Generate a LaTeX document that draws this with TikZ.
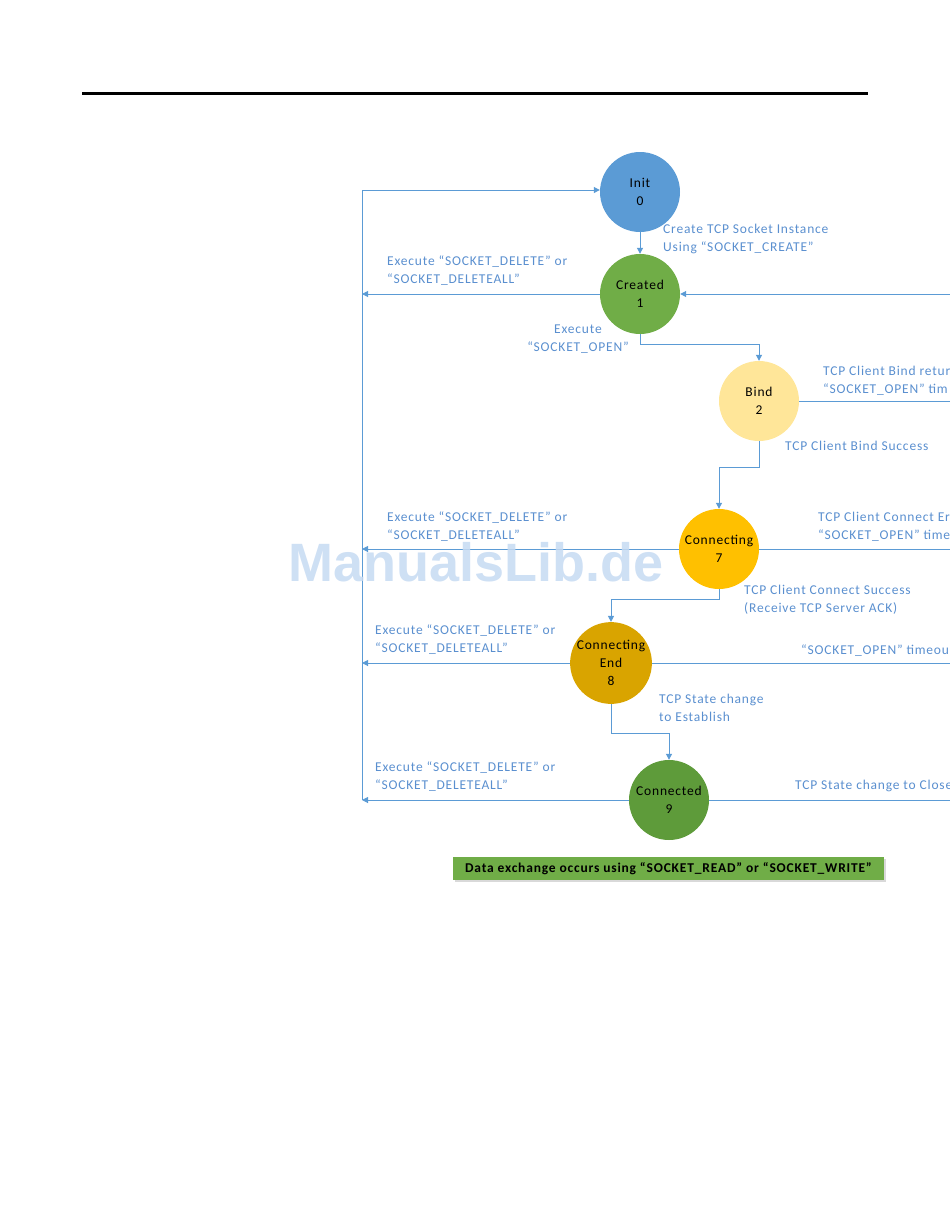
\documentclass[tikz,border=0pt]{standalone}
\usepackage{fontspec}
\setmainfont{Carlito}[LetterSpace=6]
\newfontfamily\markfont{Liberation Sans}
\usetikzlibrary{arrows.meta,shadows}
\definecolor{lineblue}{HTML}{5B9BD5}
\definecolor{textblue}{HTML}{5A8FCF}
\definecolor{initblue}{HTML}{5B9BD5}
\definecolor{createdgreen}{HTML}{70AD47}
\definecolor{bindyellow}{HTML}{FFE699}
\definecolor{connorange}{HTML}{FFC000}
\definecolor{endgold}{HTML}{D9A400}
\definecolor{donegreen}{HTML}{5E9B3A}
\definecolor{markblue}{HTML}{C6DAF2}
\tikzset{
  ball/.style={circle, minimum size=80pt, inner sep=0pt, align=center,
    font=\fontsize{13.5}{18}\selectfont},
  note/.style={text=textblue, align=left, anchor=west, inner sep=0pt,
    font=\fontsize{13.5}{18}\selectfont},
  link/.style={draw=lineblue, line width=1pt},
}
\begin{document}
\begin{tikzpicture}[x=1pt, y=-1pt, >={Triangle[length=6pt,width=6pt]}]
    \useasboundingbox (0,0) rectangle (950,1229);
    \clip (0,0) rectangle (950,1229);
    \draw[line width=3pt] (82,93) -- (868,93);
    % states
    \node[ball, fill=initblue] (init) at (640,192) {Init\\0};
    \node[ball, fill=createdgreen] (created) at (640,294) {Created\\1};
    \node[ball, fill=bindyellow] (bind) at (759,401) {Bind\\2};
    \node[ball, fill=connorange] (connecting) at (719,549) {Connecting\\7};
    \node[ball, fill=endgold] (connend) at (611,663) {Connecting\\End\\8};
    \node[ball, fill=donegreen] (connected) at (669,800) {Connected\\9};
    \coordinate (busT) at (362,190);
    \coordinate (busB) at (362,800);
    \coordinate (edge) at (950,0);
    % left bus
    \draw[link, ->] (busB) -- (busT) -- (busT -| init.west);
    \draw[link, ->] (created.west) -- (created.west -| busT);
    \draw[link, ->] (connecting.west) -- (connecting.west -| busT);
    \draw[link, ->] (connend.west) -- (connend.west -| busT);
    \draw[link, ->] (connected.west) -- (connected.west -| busT);
    % right side
    \draw[link, <-] (created.east) -- (created.east -| edge);
    \draw[link] (bind.east) -- (bind.east -| edge);
    \draw[link] (connecting.east) -- (connecting.east -| edge);
    \draw[link] (connend.east) -- (connend.east -| edge);
    \draw[link] (connected.east) -- (connected.east -| edge);
    % forward steps
    \draw[link, ->] (init) -- (created);
    \draw[link, ->] (created.south) -- ++(0,10) -| (bind.north);
    \draw[link, ->] (bind.south) -- ++(0,26) -| (connecting.north);
    \draw[link, ->] (connecting.south) -- ++(0,10) -| (connend.north);
    \draw[link, ->] (connend.south) -- ++(0,29) -| (connected.north);
    % labels
    \node[note] (lcreate) at (663,239) {Create TCP Socket Instance\\Using “SOCKET\_CREATE”};
    \node[note] (ldel1) at (387,271) {Execute “SOCKET\_DELETE” or\\“SOCKET\_DELETEALL”};
    \node[note, align=center, anchor=center] (lopen) at (578,339) {Execute\\“SOCKET\_OPEN”};
    \node[note] (lbindErr) at (823,381) {TCP Client Bind retur\\“SOCKET\_OPEN” tim};
    \node[note] (lbindOk) at (785,446) {TCP Client Bind Success};
    \node[note] (ldel7) at (387,527) {Execute “SOCKET\_DELETE” or\\“SOCKET\_DELETEALL”};
    \node[note] (lconnErr) at (818,527) {TCP Client Connect Er\\“SOCKET\_OPEN” time};
    \node[note] (lconnOk) at (744,600) {TCP Client Connect Success\\(Receive TCP Server ACK)};
    \node[note] (ldel8) at (375,640) {Execute “SOCKET\_DELETE” or\\“SOCKET\_DELETEALL”};
    \node[note] (ltimeout) at (801,651) {“SOCKET\_OPEN” timeou};
    \node[note] (lest) at (659,708) {TCP State change\\to Establish};
    \node[note] (ldel9) at (375,777) {Execute “SOCKET\_DELETE” or\\“SOCKET\_DELETEALL”};
    \node[note] (lclose) at (795,786) {TCP State change to Close};
    % data box
    \node[fill=createdgreen, drop shadow={opacity=0.3}, minimum width=431pt, minimum height=23pt,
      inner sep=0pt, font=\fontsize{13.5}{15}\selectfont\bfseries] (data) at (668.5,868.5)
      {Data exchange occurs using “SOCKET\_READ” or “SOCKET\_WRITE”};
    % watermark
    \node[text=markblue, opacity=0.85, font=\markfont\fontsize{54}{60}\selectfont\bfseries]
      (mark) at (476,562) {ManualsLib.de};
\end{tikzpicture}
\end{document}
